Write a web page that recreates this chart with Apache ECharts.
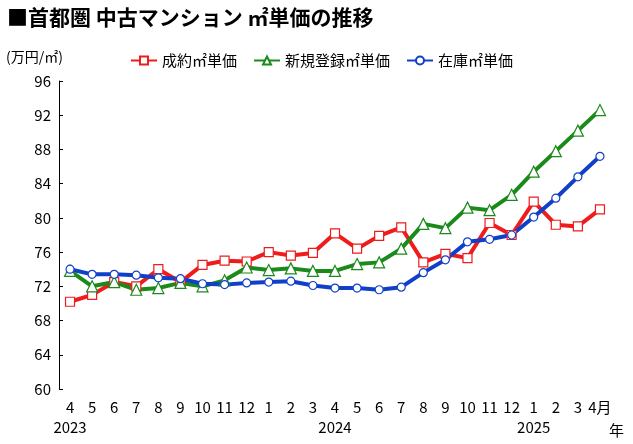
<!DOCTYPE html>
<html><head><meta charset="utf-8">
<script src="https://cdn.jsdelivr.net/npm/echarts@6/dist/echarts.min.js"></script>
<style>body{margin:0;background:#fff}#c{width:633px;height:444px}</style>
</head><body><div id="c"></div>
<script>
const months = ['4\n2023','5','6','7','8','9','10','11','12','1','2','3','4\n2024','5','6','7','8','9','10','11','12','1\n2025','2','3','4月'];
const seiyaku = [70.2,71.0,72.5,72.0,74.0,72.5,74.5,75.0,74.9,76.0,75.6,75.9,78.2,76.4,77.9,78.9,74.8,75.8,75.3,79.4,78.0,81.9,79.2,79.0,81.0];
const shinki = [73.8,72.0,72.5,71.6,71.8,72.4,72.0,72.7,74.2,73.9,74.1,73.8,73.8,74.6,74.8,76.4,79.3,78.8,81.2,80.9,82.7,85.4,87.8,90.2,92.6];
const zaiko = [74.0,73.4,73.4,73.3,73.0,72.9,72.3,72.2,72.4,72.5,72.6,72.1,71.8,71.8,71.6,71.9,73.6,75.1,77.2,77.5,78.0,80.1,82.3,84.8,87.2];

const chart = echarts.init(document.getElementById('c'));
const FONT = '"Noto Sans CJK JP", sans-serif';
const mk = (name, data, color, symbol, size) => ({
  name, type: 'line', data, color,
  symbol, symbolSize: size,
  lineStyle: { width: 4, color },
  itemStyle: { color: '#fff', borderColor: color, borderWidth: 1.2 }
});
chart.setOption({
  animation: false,
  textStyle: { fontFamily: FONT },
  title: {
    text: '■首都圏 中古マンション ㎡単価の推移', left: 2, top: 2,
    textStyle: { fontSize: 21, fontWeight: 'bold', color: '#000', fontFamily: FONT }
  },
  legend: {
    top: 48, left: 125, itemGap: 16, itemWidth: 26, itemHeight: 10,
    textStyle: { fontSize: 15, color: '#000' },
    data: ['成約㎡単価', '新規登録㎡単価', '在庫㎡単価']
  },
  graphic: [
    { type: 'text', left: 6, top: 50, style: { text: '(万円/㎡)', fontSize: 14, fill: '#000', fontFamily: FONT } },
    { type: 'text', left: 609, top: 423, style: { text: '年', fontSize: 15, fill: '#000', fontFamily: FONT } }
  ],
  grid: { left: 59, right: 22, top: 81, bottom: 55 },
  xAxis: {
    type: 'category', data: months, boundaryGap: true,
    axisLine: { show: false }, axisTick: { show: false },
    axisLabel: { fontSize: 15, color: '#000', lineHeight: 20, interval: 0 }
  },
  yAxis: {
    type: 'value', min: 60, max: 96, interval: 4,
    splitLine: { show: false },
    axisLine: { show: true, lineStyle: { color: '#000' } },
    axisTick: { show: true, inside: true, length: 4, lineStyle: { color: '#000' } },
    axisLabel: { fontSize: 15, color: '#000' }
  },
  series: [
    mk('成約㎡単価', seiyaku, '#ee1c1c', 'rect', 9),
    mk('新規登録㎡単価', shinki, '#1a8a1a', 'triangle', 11),
    mk('在庫㎡単価', zaiko, '#1040c8', 'circle', 8)
  ]
});
</script></body></html>
